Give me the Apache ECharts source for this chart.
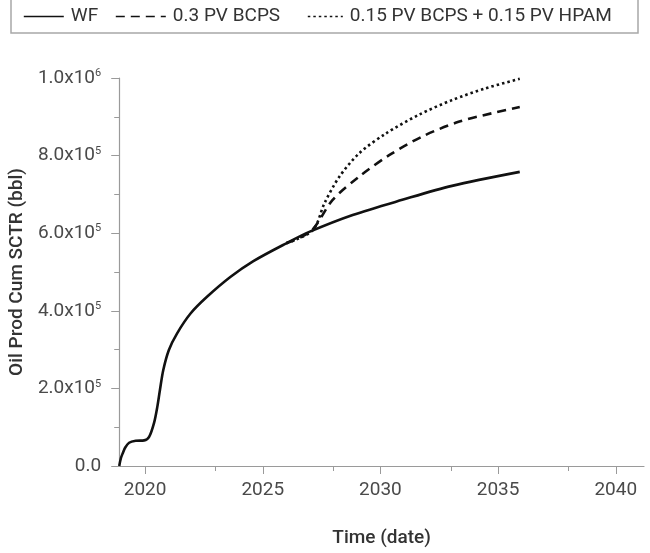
<!DOCTYPE html>
<html>
<head>
<meta charset="utf-8">
<script src="https://cdn.jsdelivr.net/npm/echarts@6/dist/echarts.min.js"></script>
<style>
  html, body { margin: 0; padding: 0; background: #fff; }
  #chart { width: 650px; height: 553px; }
</style>
</head>
<body>
<div id="chart"></div>
<script>
// series names
var seriesNames = ['WF', '0.3 PV BCPS', '0.15 PV BCPS + 0.15 PV HPAM'];

// WF (waterflood) cumulative oil, bbl
var wfYears = [2018.90, 2018.97, 2019.05, 2019.15, 2019.32, 2019.60, 2019.96, 2020.17, 2020.38, 2020.52,
  2020.63, 2020.77, 2021.01, 2021.36, 2021.93, 2022.63, 2023.62, 2024.60, 2026.00, 2027.00,
  2028.82, 2030.93, 2033.04, 2035.92];
var wfValues = [0, 20000, 33000, 47000, 60000, 65000, 66000, 75000, 111000, 153000,
  196000, 247000, 299000, 342000, 393000, 436000, 487000, 528000, 574000, 604000,
  647000, 686000, 722000, 758000];

// 0.3 PV BCPS
var bcpsYears = [2026.00, 2027.06, 2027.97, 2029.10, 2030.37, 2031.77, 2033.32, 2034.73, 2035.92];
var bcpsValues = [574000, 606000, 686000, 746000, 801000, 849000, 887000, 909000, 925000];

// 0.15 PV BCPS + 0.15 PV HPAM
var hpamYears = [2026.00, 2027.13, 2027.62, 2028.26, 2029.10, 2030.23, 2031.63, 2033.04, 2034.45, 2035.92];
var hpamValues = [574000, 608000, 677000, 746000, 806000, 857000, 905000, 943000, 973000, 998000];

// axis ticks
var xLabelYears = [2020, 2025, 2030, 2035, 2040];
var xMinorYears = [2023, 2028, 2033, 2038];

function pairs(xs, ys) {
  var out = [];
  for (var i = 0; i < xs.length; i++) {
    out.push([xs[i], ys[i]]);
  }
  return out;
}

function sciLabel(v) {
  if (v === 0) return '0.0';
  var e = Math.floor(Math.log10(v) + 1e-9);
  var m = v / Math.pow(10, e);
  return m.toFixed(1) + 'x10{s|' + e + '}';
}

var font = 'Roboto, "Noto Sans", sans-serif';
var axisGrey = '#9a9a9a';
var textGrey = '#4a4a4a';

var chart = echarts.init(document.getElementById('chart'));

var legendBase = {
  orient: 'horizontal',
  top: 7,
  padding: 0,
  itemHeight: 14,
  textStyle: { fontFamily: font, fontSize: 19, color: '#333', padding: [0, 0, 0, 2] },
  itemStyle: { opacity: 0 },
  lineStyle: { width: 1.6 }
};

var option = {
  backgroundColor: '#fff',
  animation: false,
  grid: { left: 115, right: 6, top: 78, bottom: 87 },
  legend: [
    Object.assign({}, legendBase, { data: [seriesNames[0]], left: 23, itemWidth: 40 }),
    Object.assign({}, legendBase, { data: [seriesNames[1]], left: 115, itemWidth: 50 }),
    Object.assign({}, legendBase, { data: [seriesNames[2]], left: 307, itemWidth: 35 })
  ],
  graphic: [{
    type: 'rect',
    shape: { x: 11, y: -5, width: 627, height: 38 },
    style: { fill: 'none', stroke: '#a8a8a8', lineWidth: 1.5 },
    silent: true
  }],
  xAxis: [{
    type: 'value',
    min: 2018.9,
    max: 2041.2,
    name: 'Time (date)',
    nameLocation: 'middle',
    nameGap: 63,
    nameTextStyle: { fontFamily: font, fontSize: 19, fontWeight: 500, color: '#333' },
    axisLine: { onZero: false, lineStyle: { color: axisGrey, width: 1.2 } },
    axisTick: { customValues: xLabelYears, length: 8, lineStyle: { color: axisGrey } },
    axisLabel: {
      customValues: xLabelYears,
      margin: 15,
      fontFamily: font, fontSize: 19, color: textGrey,
      formatter: function (v) { return String(Math.round(v)); }
    },
    splitLine: { show: false }
  }, {
    type: 'value',
    position: 'bottom',
    min: 2018.9,
    max: 2041.2,
    axisLine: { show: false, onZero: false },
    axisTick: { customValues: xMinorYears, length: 5, lineStyle: { color: axisGrey } },
    axisLabel: { show: false },
    splitLine: { show: false }
  }],
  yAxis: {
    type: 'value',
    min: 0,
    max: 1000000,
    interval: 200000,
    name: 'Oil Prod Cum SCTR (bbl)',
    nameLocation: 'middle',
    nameGap: 90,
    nameTextStyle: { fontFamily: font, fontSize: 19, fontWeight: 500, color: '#333' },
    axisLine: { show: true, lineStyle: { color: axisGrey, width: 1.2 } },
    axisTick: { show: true, length: 8, lineStyle: { color: axisGrey } },
    minorTick: { show: true, splitNumber: 2, length: 5, lineStyle: { color: axisGrey } },
    axisLabel: {
      margin: 18,
      fontFamily: font, fontSize: 19, color: textGrey,
      formatter: sciLabel,
      rich: {
        s: { fontFamily: font, fontSize: 11, color: textGrey, padding: [0, 0, 9, 0] }
      }
    },
    splitLine: { show: false }
  },
  series: [{
    name: seriesNames[0],
    type: 'line',
    data: pairs(wfYears, wfValues),
    showSymbol: false,
    symbol: 'none',
    smooth: 0.3,
    lineStyle: { color: '#111', width: 2.6, type: 'solid' },
    itemStyle: { color: '#111' }
  }, {
    name: seriesNames[1],
    type: 'line',
    data: pairs(bcpsYears, bcpsValues),
    showSymbol: false,
    symbol: 'none',
    smooth: 0.3,
    lineStyle: { color: '#111', width: 2.6, type: [9, 6] },
    itemStyle: { color: '#111' }
  }, {
    name: seriesNames[2],
    type: 'line',
    data: pairs(hpamYears, hpamValues),
    showSymbol: false,
    symbol: 'none',
    smooth: 0.3,
    lineStyle: { color: '#111', width: 2.6, type: [2.5, 3] },
    itemStyle: { color: '#111' }
  }]
};

chart.setOption(option);
</script>
</body>
</html>
